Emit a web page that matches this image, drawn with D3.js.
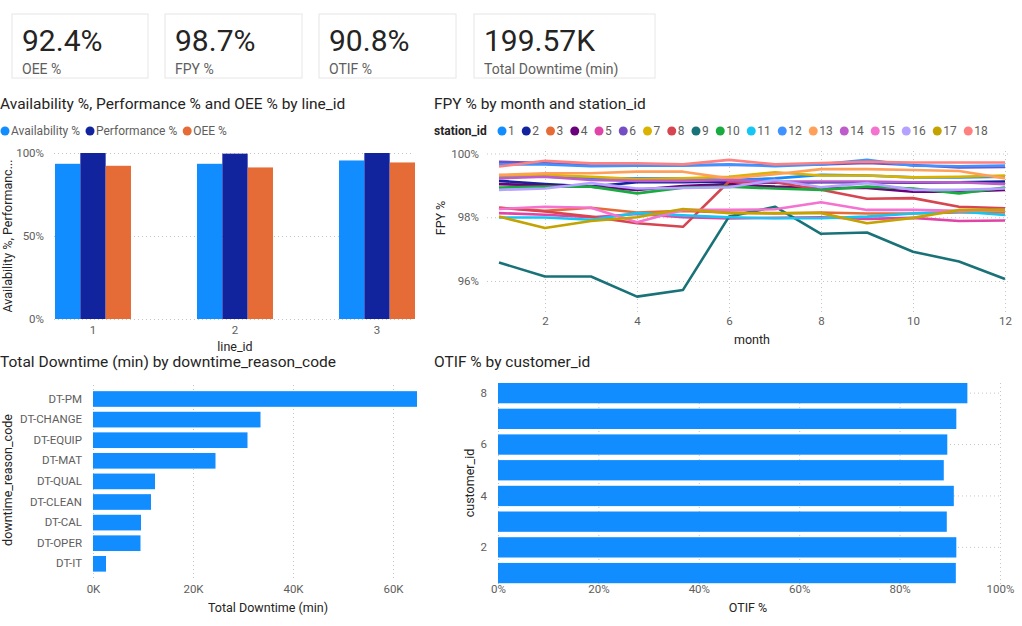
<!DOCTYPE html>
<html>
<head>
<meta charset="utf-8">
<script src="https://cdn.jsdelivr.net/npm/d3@7"></script>
<style>
  body { margin: 0; background: #fff; }
  text { font-family: 'Segoe UI', Roboto, sans-serif; }
  .grid line { stroke: #c8c6c4; stroke-dasharray: 1,3; }
  .grid path, .axis path { display: none; }
  .axis text { fill: #605e5c; font-size: 11.5px; }
  .title { fill: #252423; font-size: 15.5px; }
  .atitle { fill: #252423; font-size: 12.5px; }
</style>
</head>
<body>
<script>
// KPI cards
const kpiValues = ['92.4%', '98.7%', '90.8%', '199.57K'];
const kpiLabels = ['OEE %', 'FPY %', 'OTIF %', 'Total Downtime (min)'];

// Availability / Performance / OEE by line
const lineIds = [1, 2, 3];
const measures = ['Availability %', 'Performance %', 'OEE %'];
const availability = [93.5, 93.5, 95.5];
const performance = [100, 99.6, 100];
const oee = [92.3, 91.3, 94.3];

// FPY % by month and station
const months = [1, 2, 3, 4, 5, 6, 7, 8, 9, 10, 11, 12];
const stations = [1, 2, 3, 4, 5, 6, 7, 8, 9, 10, 11, 12, 13, 14, 15, 16, 17, 18];
const fpy = [
  [99.27, 99.27, 99.22, 99.22, 99.22, 99.17, 99.22, 99.33, 99.31, 99.25, 99.25, 99.27],
  [99.14, 99.04, 98.96, 99.10, 99.10, 99.12, 99.08, 99.10, 99.10, 99.08, 99.10, 99.12],
  [98.30, 98.20, 98.30, 98.15, 98.20, 98.15, 98.12, 98.15, 98.12, 98.12, 98.15, 98.15],
  [99.04, 99.00, 98.96, 98.86, 98.98, 99.04, 98.96, 98.92, 98.92, 98.80, 98.80, 98.86],
  [98.13, 98.08, 98.00, 98.10, 98.00, 97.96, 97.98, 98.00, 97.95, 97.98, 97.88, 97.90],
  [99.74, 99.70, 99.62, 99.62, 99.64, 99.64, 99.64, 99.66, 99.70, 99.64, 99.56, 99.58],
  [99.31, 99.33, 99.27, 99.20, 99.22, 99.27, 99.41, 99.31, 99.31, 99.25, 99.27, 99.31],
  [98.30, 98.18, 98.02, 97.81, 97.70, 99.12, 99.10, 98.86, 98.58, 98.60, 98.33, 98.28],
  [96.58, 96.14, 96.14, 95.51, 95.72, 98.02, 98.33, 97.48, 97.52, 96.92, 96.61, 96.06],
  [98.93, 98.96, 98.96, 98.75, 98.93, 98.96, 98.90, 98.86, 98.96, 98.90, 98.75, 98.93],
  [97.99, 97.99, 97.92, 98.13, 98.06, 98.00, 97.97, 97.97, 98.02, 98.12, 98.18, 98.07],
  [99.66, 99.66, 99.60, 99.62, 99.62, 99.66, 99.60, 99.66, 99.80, 99.62, 99.60, 99.62],
  [99.33, 99.38, 99.38, 99.43, 99.43, 99.22, 99.35, 99.51, 99.51, 99.48, 99.45, 99.22],
  [99.22, 99.27, 99.17, 99.14, 99.14, 99.17, 99.12, 99.12, 99.12, 99.10, 99.10, 99.04],
  [98.26, 98.33, 98.30, 97.84, 98.23, 98.23, 98.25, 98.47, 98.23, 98.23, 98.20, 98.23],
  [98.86, 98.90, 99.07, 98.90, 98.92, 98.94, 99.17, 98.94, 99.07, 98.86, 98.86, 98.90],
  [98.02, 97.66, 97.88, 98.00, 98.26, 98.13, 98.13, 98.13, 97.81, 97.98, 98.23, 98.23],
  [99.59, 99.77, 99.69, 99.69, 99.66, 99.80, 99.66, 99.70, 99.74, 99.72, 99.72, 99.72]
];
const stationColors = ['#118DFF', '#12239E', '#E66C37', '#6B007B', '#E044A7', '#744EC2',
  '#D9B300', '#D64550', '#197278', '#1AAB40', '#15C6F4', '#4092FF', '#FFA058', '#BE5DC9',
  '#F472D0', '#B5A1FF', '#C4A200', '#FF8080'];

// Downtime by reason
const reasons = ['DT-PM', 'DT-CHANGE', 'DT-EQUIP', 'DT-MAT', 'DT-QUAL', 'DT-CLEAN', 'DT-CAL', 'DT-OPER', 'DT-IT'];
const downtime = [64800, 33500, 30900, 24500, 12400, 11600, 9600, 9500, 2600];

// OTIF by customer
const customers = [8, 7, 6, 5, 4, 3, 2, 1];
const otif = [93.5, 91.3, 89.5, 88.8, 90.8, 89.4, 91.3, 91.2];

const measureColors = ['#118DFF', '#12239E', '#E66C37'];

const svg = d3.select('body').append('svg')
  .attr('width', 1022)
  .attr('height', 626);

// ---- KPI cards
const cardX = [12, 165, 319, 474];
const cardW = [136, 137, 137, 181];
const cards = svg.selectAll('g.card')
  .data(kpiValues)
  .enter().append('g')
  .attr('class', 'card')
  .attr('transform', (d, i) => `translate(${cardX[i]},14)`);
cards.append('rect')
  .attr('width', (d, i) => cardW[i])
  .attr('height', 64)
  .attr('fill', '#fff')
  .attr('stroke', '#e6e6e6');
cards.append('text')
  .attr('x', 10).attr('y', 37)
  .style('font-size', '30px')
  .attr('fill', '#252423')
  .text(d => d);
cards.append('text')
  .attr('x', 10).attr('y', 60)
  .style('font-size', '14px')
  .attr('fill', '#605e5c')
  .text((d, i) => kpiLabels[i]);

// ---- Titles
svg.append('text').attr('class', 'title').attr('x', 0).attr('y', 109)
  .text('Availability %, Performance % and OEE % by line_id');
svg.append('text').attr('class', 'title').attr('x', 434).attr('y', 109)
  .text('FPY % by month and station_id');
svg.append('text').attr('class', 'title').attr('x', 0).attr('y', 367)
  .text('Total Downtime (min) by downtime_reason_code');
svg.append('text').attr('class', 'title').attr('x', 434).attr('y', 367)
  .text('OTIF % by customer_id');

// ---- Chart 1: clustered columns
const leg1 = svg.append('g').attr('transform', 'translate(0,131)');
let lx = 5;
measures.forEach((m, i) => {
  leg1.append('circle').attr('cx', lx).attr('cy', 0).attr('r', 4.5).attr('fill', measureColors[i]);
  const t = leg1.append('text').attr('x', lx + 6).attr('y', 4)
    .style('font-size', '12px').attr('fill', '#605e5c').text(m);
  lx += 6 + t.node().getComputedTextLength() + 10;
});

const x1 = d3.scaleBand().domain(lineIds).range([55, 415]).paddingInner(0.465);
const x1s = d3.scaleBand().domain(measures).range([0, x1.bandwidth()]);
const y1 = d3.scaleLinear().domain([0, 100]).range([319, 153]);

svg.append('g').attr('class', 'grid')
  .attr('transform', 'translate(54,0)')
  .call(d3.axisLeft(y1).tickValues([0, 50, 100]).tickSize(-360).tickFormat(''));

const series1 = [availability, performance, oee];
const groups = svg.selectAll('g.lg')
  .data(lineIds)
  .enter().append('g')
  .attr('class', 'lg')
  .attr('transform', d => `translate(${x1(d)},0)`);
groups.selectAll('rect')
  .data((d, i) => measures.map((m, j) => ({ m, v: series1[j][i], c: measureColors[j] })))
  .enter().append('rect')
  .attr('x', d => x1s(d.m))
  .attr('width', x1s.bandwidth())
  .attr('y', d => y1(d.v))
  .attr('height', d => y1(0) - y1(d.v))
  .attr('fill', d => d.c);

svg.append('g').attr('class', 'axis')
  .attr('transform', 'translate(47,0)')
  .call(d3.axisLeft(y1).tickValues([0, 50, 100]).tickSize(0).tickFormat(d => d + '%'));
svg.append('g').attr('class', 'axis')
  .attr('transform', 'translate(0,323)')
  .call(d3.axisBottom(x1).tickSize(0));
svg.append('text').attr('class', 'atitle').attr('x', 235).attr('y', 351)
  .attr('text-anchor', 'middle').text('line_id');
svg.append('text').attr('class', 'atitle')
  .attr('transform', 'translate(12,236) rotate(-90)')
  .attr('text-anchor', 'middle').text('Availability %, Performanc...');

// ---- Chart 2: FPY lines
const leg2 = svg.append('g').attr('transform', 'translate(434,131)');
leg2.append('text').attr('x', 0).attr('y', 4)
  .style('font-size', '12px').style('font-weight', 'bold').attr('fill', '#252423')
  .text('station_id');
let sx = 68;
stations.forEach((s, i) => {
  leg2.append('circle').attr('cx', sx).attr('cy', 0).attr('r', 4.5).attr('fill', stationColors[i]);
  const t = leg2.append('text').attr('x', sx + 6).attr('y', 4)
    .style('font-size', '12px').attr('fill', '#605e5c').text(s);
  sx += 6 + t.node().getComputedTextLength() + 11.5;
});

const x2 = d3.scaleLinear().domain([1, 12]).range([499, 1005]);
const y2 = d3.scaleLinear().domain([96, 100]).range([281, 153.5]);

svg.append('g').attr('class', 'grid')
  .attr('transform', 'translate(487,0)')
  .call(d3.axisLeft(y2).tickValues([96, 98, 100]).tickSize(-521).tickFormat(''));
svg.append('g').attr('class', 'grid')
  .attr('transform', 'translate(0,312)')
  .call(d3.axisBottom(x2).tickValues([2, 4, 6, 8, 10, 12]).tickSize(-162).tickFormat(''));

const line = d3.line()
  .x((d, i) => x2(months[i]))
  .y(d => y2(d));
svg.append('g').selectAll('path')
  .data(fpy)
  .enter().append('path')
  .attr('d', line)
  .attr('fill', 'none')
  .attr('stroke', (d, i) => stationColors[i])
  .attr('stroke-width', 2.6)
  .attr('stroke-linejoin', 'round');

svg.append('g').attr('class', 'axis')
  .attr('transform', 'translate(482,0)')
  .call(d3.axisLeft(y2).tickValues([96, 98, 100]).tickSize(0).tickFormat(d => d + '%'));
svg.append('g').attr('class', 'axis')
  .attr('transform', 'translate(0,314)')
  .call(d3.axisBottom(x2).tickValues([2, 4, 6, 8, 10, 12]).tickSize(0));
svg.append('text').attr('class', 'atitle').attr('x', 752).attr('y', 344)
  .attr('text-anchor', 'middle').text('month');
svg.append('text').attr('class', 'atitle')
  .attr('transform', 'translate(445,218) rotate(-90)')
  .attr('text-anchor', 'middle').text('FPY %');

// ---- Chart 3: downtime bars
const y3 = d3.scaleBand().domain(reasons).range([388.7, 574.1]).paddingInner(0.24).paddingOuter(0.12);
const x3 = d3.scaleLinear().domain([0, 60000]).range([93, 393]);

svg.append('g').attr('class', 'grid')
  .attr('transform', 'translate(0,578)')
  .call(d3.axisBottom(x3).tickValues([0, 20000, 40000, 60000]).tickSize(-196).tickFormat(''));
svg.append('g').selectAll('rect')
  .data(downtime)
  .enter().append('rect')
  .attr('x', x3(0))
  .attr('y', (d, i) => y3(reasons[i]))
  .attr('height', y3.bandwidth())
  .attr('width', d => x3(d) - x3(0))
  .attr('fill', '#118DFF');
svg.append('g').attr('class', 'axis')
  .attr('transform', 'translate(85,0)')
  .call(d3.axisLeft(y3).tickSize(0));
svg.append('g').attr('class', 'axis')
  .attr('transform', 'translate(0,582)')
  .call(d3.axisBottom(x3).tickValues([0, 20000, 40000, 60000]).tickSize(0).tickFormat(d => d / 1000 + 'K'));
svg.append('text').attr('class', 'atitle').attr('x', 268).attr('y', 612)
  .attr('text-anchor', 'middle').text('Total Downtime (min)');
svg.append('text').attr('class', 'atitle')
  .attr('transform', 'translate(12,480) rotate(-90)')
  .attr('text-anchor', 'middle').text('downtime_reason_code');

// ---- Chart 4: OTIF bars
const y4 = d3.scaleBand().domain(customers).range([381.7, 584.5]).paddingInner(0.21).paddingOuter(0.05);
const x4 = d3.scaleLinear().domain([0, 100]).range([498, 1000]);

svg.append('g').attr('class', 'grid')
  .attr('transform', 'translate(0,584)')
  .call(d3.axisBottom(x4).tickValues([0, 20, 40, 60, 80, 100]).tickSize(-202).tickFormat(''));
svg.append('g').attr('class', 'grid')
  .attr('transform', 'translate(498,0)')
  .call(d3.axisLeft(y4).tickValues([8, 6, 4, 2]).tickSize(-502).tickFormat(''));
svg.append('g').selectAll('rect')
  .data(otif)
  .enter().append('rect')
  .attr('x', x4(0))
  .attr('y', (d, i) => y4(customers[i]))
  .attr('height', y4.bandwidth())
  .attr('width', d => x4(d) - x4(0))
  .attr('fill', '#118DFF');
svg.append('g').attr('class', 'axis')
  .attr('transform', 'translate(490,0)')
  .call(d3.axisLeft(y4).tickValues([8, 6, 4, 2]).tickSize(0));
svg.append('g').attr('class', 'axis')
  .attr('transform', 'translate(0,582)')
  .call(d3.axisBottom(x4).tickValues([0, 20, 40, 60, 80, 100]).tickSize(0).tickFormat(d => d + '%'));
svg.append('text').attr('class', 'atitle').attr('x', 748).attr('y', 612)
  .attr('text-anchor', 'middle').text('OTIF %');
svg.append('text').attr('class', 'atitle')
  .attr('transform', 'translate(474,483) rotate(-90)')
  .attr('text-anchor', 'middle').text('customer_id');
</script>
</body>
</html>
